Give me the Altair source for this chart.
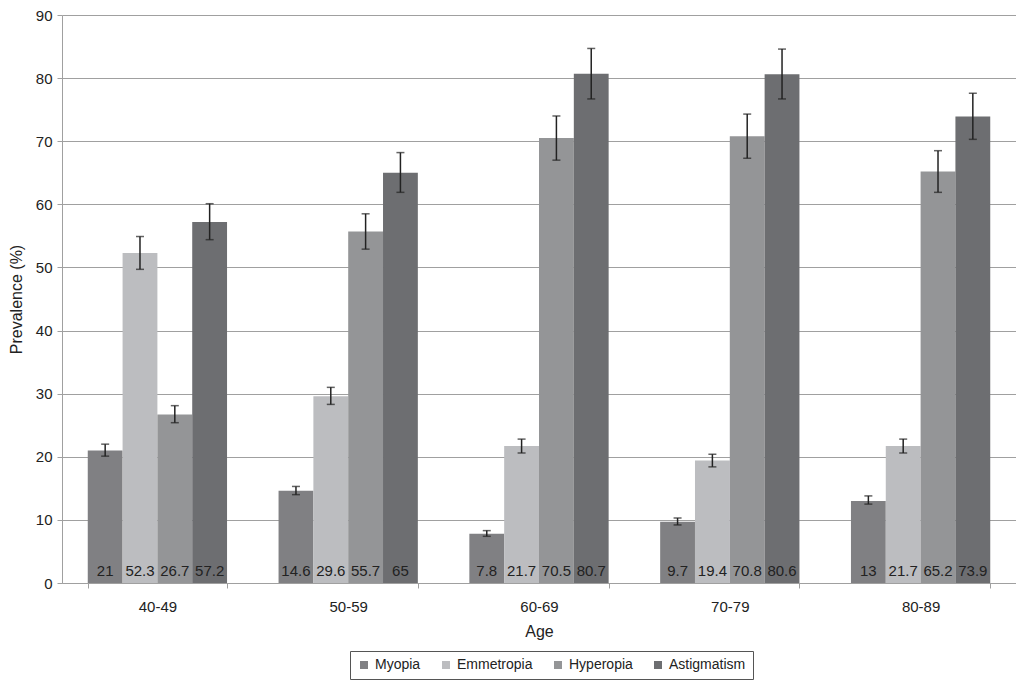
import altair as alt
import pandas as pd

ages = ["40-49", "50-59", "60-69", "70-79", "80-89"]
series = ["Myopia", "Emmetropia", "Hyperopia", "Astigmatism"]
colors = ["#808083", "#bcbdc0", "#949597", "#6d6e71"]

values = {
    "Myopia": [21, 14.6, 7.8, 9.7, 13],
    "Emmetropia": [52.3, 29.6, 21.7, 19.4, 21.7],
    "Hyperopia": [26.7, 55.7, 70.5, 70.8, 65.2],
    "Astigmatism": [57.2, 65, 80.7, 80.6, 73.9],
}
lower = {
    "Myopia": [20.1, 14.0, 7.4, 9.2, 12.5],
    "Emmetropia": [49.7, 28.3, 20.6, 18.4, 20.6],
    "Hyperopia": [25.4, 52.9, 67.0, 67.3, 61.9],
    "Astigmatism": [54.4, 61.9, 76.7, 76.7, 70.3],
}
upper = {
    "Myopia": [22.0, 15.3, 8.3, 10.3, 13.8],
    "Emmetropia": [54.9, 31.0, 22.8, 20.4, 22.8],
    "Hyperopia": [28.1, 58.5, 74.0, 74.3, 68.5],
    "Astigmatism": [60.1, 68.2, 84.7, 84.6, 77.6],
}

rows = []
for s in series:
    for i, a in enumerate(ages):
        rows.append({"Age": a, "Series": s, "Value": values[s][i],
                     "Lo": lower[s][i], "Hi": upper[s][i],
                     "Label": f"{values[s][i]:g}", "Zero": 0})
df = pd.DataFrame(rows)

FONT = "Liberation Sans"

x_enc = alt.X("Age:N", sort=ages,
              scale=alt.Scale(paddingInner=0.27, paddingOuter=0.135),
              axis=alt.Axis(title="Age", labelAngle=0, tickBand="extent",
                            tickSize=5, labelPadding=11, labelFontSize=15,
                            titleFontSize=16, titleFontWeight="normal",
                            titlePadding=9, domainColor="#a0a0a0",
                            tickColor="#a0a0a0", labelColor="#222222",
                            titleColor="#222222", grid=False))
xo_enc = alt.XOffset("Series:N", sort=series,
                     scale=alt.Scale(paddingInner=0, paddingOuter=0))
y_scale = alt.Scale(domain=[0, 90], nice=False)

base = alt.Chart(df)

bars = base.mark_bar().encode(
    x=x_enc,
    xOffset=xo_enc,
    y=alt.Y("Value:Q", scale=y_scale,
            axis=alt.Axis(title="Prevalence (%)", values=list(range(0, 91, 10)),
                          grid=True, gridColor="#a0a0a0", gridWidth=1,
                          domainColor="#a0a0a0", tickColor="#a0a0a0",
                          tickSize=5, labelPadding=5, labelFontSize=15,
                          titleFontSize=16, titleFontWeight="normal",
                          titlePadding=11, labelColor="#222222",
                          titleColor="#222222")),
    color=alt.Color("Series:N", sort=series,
                    scale=alt.Scale(domain=series, range=colors),
                    legend=alt.Legend(title=None, orient="none", direction="horizontal",
                                      legendX=288, legendY=636,
                                      symbolType="square", symbolSize=64,
                                      symbolStrokeWidth=0, labelFontSize=14,
                                      labelColor="#222222", labelOffset=4,
                                      columnPadding=18, padding=7,
                                      strokeColor="#555555", fillColor="white")),
)

rules = base.mark_rule(color="#222222", strokeWidth=1.5).encode(
    x=x_enc, xOffset=xo_enc,
    y=alt.Y("Lo:Q", scale=y_scale), y2="Hi:Q",
)
cap_lo = base.mark_tick(color="#222222", thickness=1.5, size=8).encode(
    x=x_enc, xOffset=xo_enc, y=alt.Y("Lo:Q", scale=y_scale),
)
cap_hi = base.mark_tick(color="#222222", thickness=1.5, size=8).encode(
    x=x_enc, xOffset=xo_enc, y=alt.Y("Hi:Q", scale=y_scale),
)
labels = base.mark_text(baseline="alphabetic", dy=-7, fontSize=15,
                        color="#222222", font=FONT).encode(
    x=x_enc, xOffset=xo_enc, y=alt.Y("Zero:Q", scale=y_scale),
    text="Label:N",
)

chart = alt.layer(bars, rules, cap_lo, cap_hi, labels).properties(
    width=954, height=568,
    autosize=alt.AutoSizeParams(type="none"),
    padding={"left": 54, "top": 7, "right": 0, "bottom": 98},
).configure(font=FONT).configure_view(stroke=None)

chart.save("out.html", embed_options={"renderer": "svg", "actions": False})
